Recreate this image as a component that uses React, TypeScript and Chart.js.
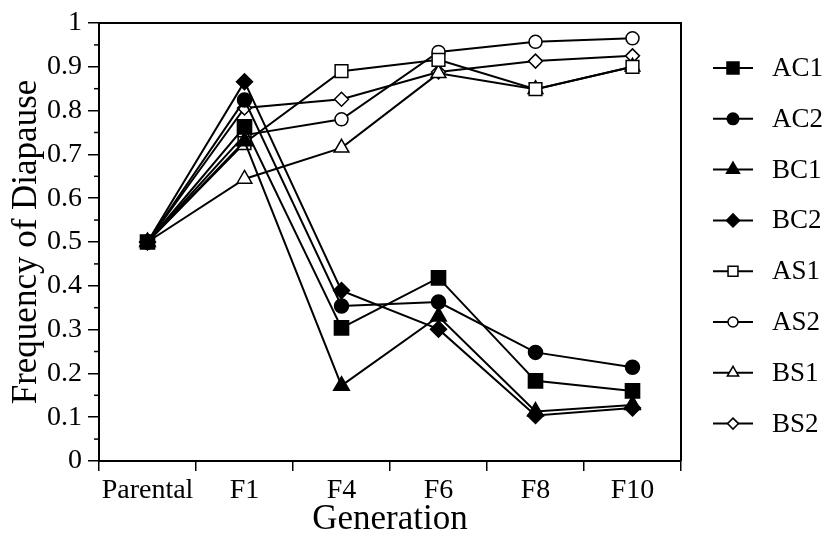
import React, { useEffect, useRef } from "react";
import { Chart, registerables } from "chart.js";

Chart.register(...registerables);

const generations = ["Parental", "F1", "F4", "F6", "F8", "F10"];
const seriesNames = ["AC1", "AC2", "BC1", "BC2", "AS1", "AS2", "BS1", "BS2"];
const ac1 = [0.5, 0.763, 0.304, 0.418, 0.183, 0.16];
const ac2 = [0.5, 0.824, 0.354, 0.363, 0.248, 0.214];
const bc1 = [0.5, 0.73, 0.172, 0.33, 0.113, 0.128];
const bc2 = [0.5, 0.866, 0.389, 0.301, 0.104, 0.121];
const as1 = [0.5, 0.726, 0.89, 0.916, 0.849, 0.9];
const as2 = [0.5, 0.744, 0.78, 0.934, 0.957, 0.965];
const bs1 = [0.5, 0.644, 0.715, 0.885, 0.849, 0.9];
const bs2 = [0.5, 0.806, 0.826, 0.888, 0.913, 0.925];
const seriesValues = [ac1, ac2, bc1, bc2, as1, as2, bs1, bs2];

const FONT = "'Liberation Serif', 'Times New Roman', serif";

type Marker = { shape: string; filled: boolean; r: number; lr: number };
const markers: Marker[] = [
  { shape: "rect", filled: true, r: 10, lr: 8.5 },
  { shape: "circle", filled: true, r: 7, lr: 5.8 },
  { shape: "triangle", filled: true, r: 9, lr: 7.5 },
  { shape: "rectRot", filled: true, r: 8, lr: 6.5 },
  { shape: "rect", filled: false, r: 9, lr: 7 },
  { shape: "circle", filled: false, r: 6.5, lr: 5 },
  { shape: "triangle", filled: false, r: 8.5, lr: 6.5 },
  { shape: "rectRot", filled: false, r: 7, lr: 5.5 },
];

function drawShape(ctx: CanvasRenderingContext2D, m: Marker, x: number, y: number, r: number) {
  ctx.beginPath();
  if (m.shape === "rect") {
    const s = Math.SQRT1_2 * r;
    ctx.rect(x - s, y - s, 2 * s, 2 * s);
  } else if (m.shape === "circle") {
    ctx.arc(x, y, r, 0, Math.PI * 2);
  } else if (m.shape === "triangle") {
    for (let k = 0; k < 3; k++) {
      const a = -Math.PI / 2 + (k * 2 * Math.PI) / 3;
      const px = x + Math.cos(a) * r;
      const py = y + Math.sin(a) * r;
      if (k === 0) ctx.moveTo(px, py);
      else ctx.lineTo(px, py);
    }
    ctx.closePath();
  } else {
    ctx.moveTo(x, y - r);
    ctx.lineTo(x + r, y);
    ctx.lineTo(x, y + r);
    ctx.lineTo(x - r, y);
    ctx.closePath();
  }
  ctx.fillStyle = m.filled ? "#000" : "#fff";
  ctx.fill();
  ctx.lineWidth = 1.5;
  ctx.strokeStyle = "#000";
  ctx.stroke();
}

const framePlugin = {
  id: "frameAndLegend",
  afterDraw(chart: any) {
    const ctx: CanvasRenderingContext2D = chart.ctx;
    const { left, right, top, bottom } = chart.chartArea;
    ctx.save();
    ctx.strokeStyle = "#000";
    ctx.lineWidth = 2;
    ctx.beginPath();
    ctx.moveTo(left, top);
    ctx.lineTo(right, top);
    ctx.lineTo(right, bottom);
    ctx.stroke();
    const yScale = chart.scales.y;
    ctx.lineWidth = 1.5;
    for (let i = 0; i < 10; i++) {
      const v = 0.05 + i * 0.1;
      const py = yScale.getPixelForValue(v);
      ctx.beginPath();
      ctx.moveTo(left - 5, py);
      ctx.lineTo(left, py);
      ctx.stroke();
    }
    const datasets = chart.data.datasets;
    ctx.font = `27px ${FONT}`;
    ctx.textBaseline = "middle";
    ctx.textAlign = "left";
    datasets.forEach((ds: any, i: number) => {
      const y = 68 + i * 50.8;
      ctx.strokeStyle = "#000";
      ctx.lineWidth = 2;
      ctx.beginPath();
      ctx.moveTo(713, y);
      ctx.lineTo(753, y);
      ctx.stroke();
      drawShape(ctx, markers[i], 733, y, markers[i].lr);
      ctx.fillStyle = "#000";
      ctx.fillText(ds.label, 772, y + 1);
    });
    ctx.restore();
  },
};

export default function App() {
  const ref = useRef<HTMLCanvasElement | null>(null);
  useEffect(() => {
    if (!ref.current) return;
    const datasets = seriesNames.map((name, i) => ({
      label: name,
      data: seriesValues[i],
      borderColor: "#000",
      borderWidth: 2,
      backgroundColor: markers[i].filled ? "#000" : "#fff",
      pointStyle: markers[i].shape,
      pointRadius: markers[i].r,
      pointBackgroundColor: markers[i].filled ? "#000" : "#fff",
      pointBorderColor: "#000",
      pointBorderWidth: 1.5,
      tension: 0,
      fill: false,
    }));
    const chart = new Chart(ref.current, {
      type: "line",
      data: { labels: generations, datasets },
      options: {
        animation: false,
        responsive: false,
        maintainAspectRatio: false,
        layout: { padding: { left: 0, top: 23, right: 146, bottom: 0 } },
        plugins: { legend: { display: false }, tooltip: { enabled: false }, title: { display: false } },
        scales: {
          x: {
            type: "category",
            offset: true,
            grid: {
              display: true,
              drawOnChartArea: false,
              offset: true,
              tickLength: 10,
              color: "#000",
              lineWidth: 1.5,
            },
            border: { display: true, color: "#000", width: 2 },
            ticks: { color: "#000", font: { family: FONT, size: 28 }, padding: 3, maxRotation: 0, autoSkip: false },
            title: {
              display: true,
              text: "Generation",
              color: "#000",
              font: { family: FONT, size: 35 },
              padding: { top: 0, bottom: 2 },
            },
            afterFit: (s: any) => {
              s.height = 82;
            },
          },
          y: {
            min: 0,
            max: 1,
            grid: {
              display: true,
              drawOnChartArea: false,
              tickLength: 11,
              color: "#000",
              tickColor: (c: any) => (c.index % 2 === 0 ? "#000" : "rgba(0,0,0,0)"),
              lineWidth: 1.5,
            },
            border: { display: true, color: "#000", width: 2 },
            ticks: {
              stepSize: 0.05,
              autoSkip: false,
              color: "#000",
              padding: 6,
              font: { family: FONT, size: 28 },
              callback: (v: any, idx: number) => (idx % 2 === 0 ? String(Math.round(Number(v) * 10) / 10) : ""),
            },
            title: {
              display: true,
              text: "Frequency of Diapause",
              color: "#000",
              font: { family: FONT, size: 35 },
              padding: { top: 6, bottom: 0 },
            },
            afterFit: (s: any) => {
              s.width = 99;
            },
          },
        },
      },
      plugins: [framePlugin],
    } as any);
    return () => chart.destroy();
  }, []);
  return (
    <div style={{ position: "absolute", left: 0, top: 0, width: 827, height: 543, background: "#fff" }}>
      <canvas ref={ref} width={827} height={543} style={{ display: "block" }} />
    </div>
  );
}
